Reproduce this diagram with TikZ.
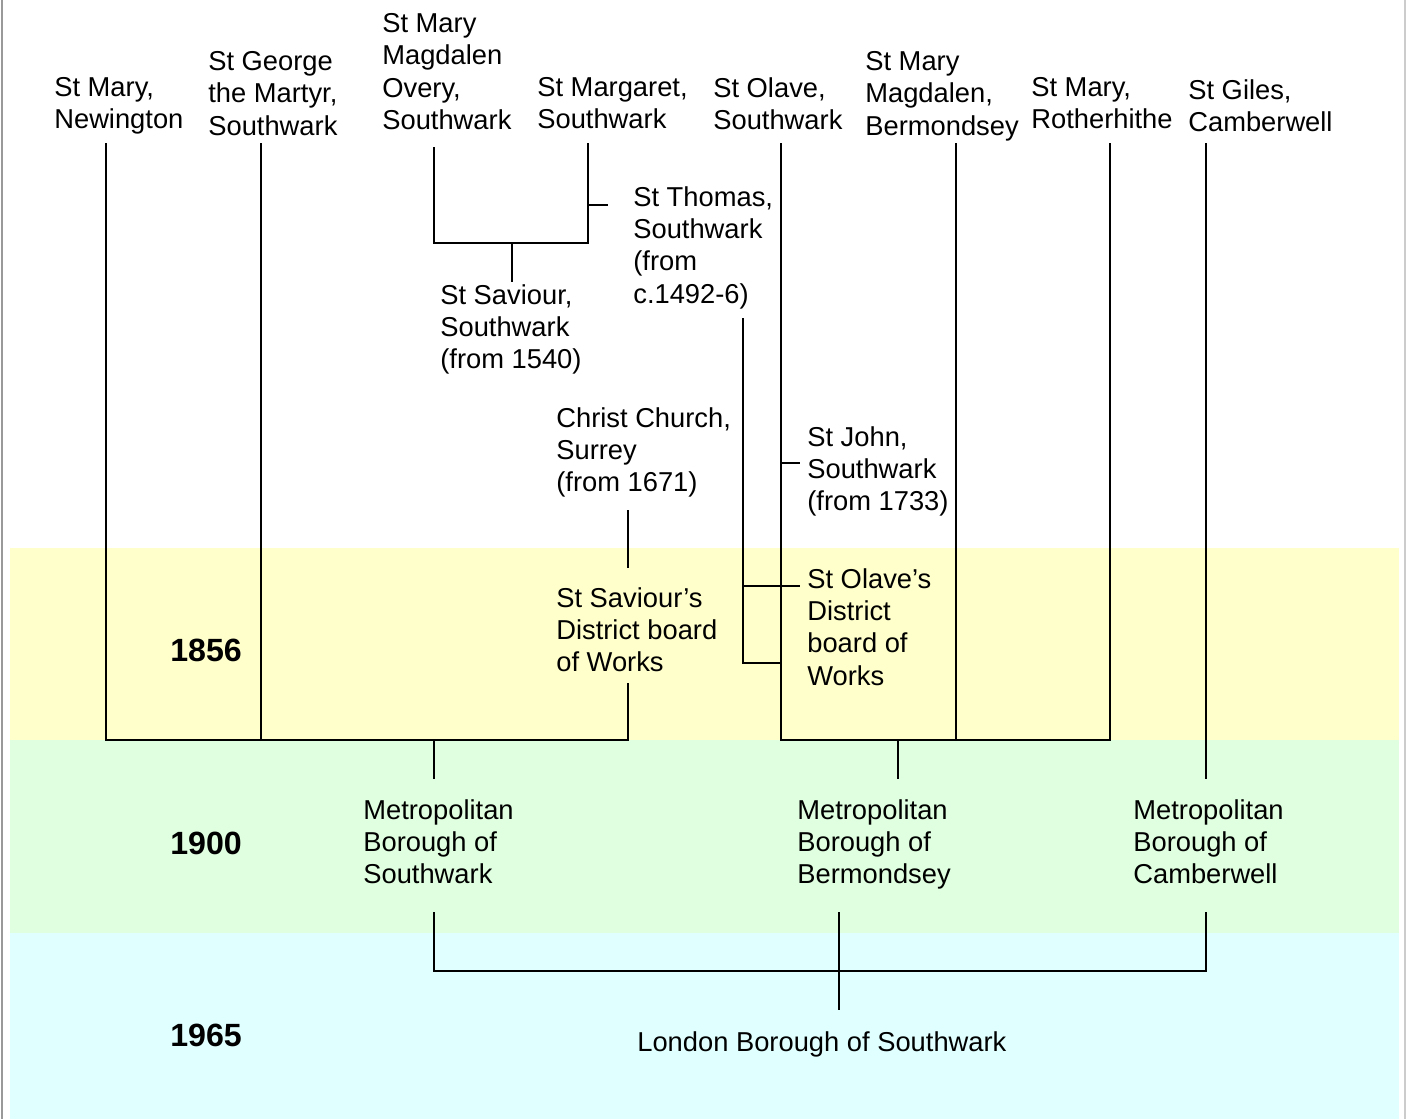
\documentclass[tikz,border=0pt]{standalone}
\usepackage{fontspec}
\setmainfont{Liberation Sans}
\definecolor{band1856}{HTML}{FFFFCC}
\definecolor{band1900}{HTML}{E0FFE0}
\definecolor{band1965}{HTML}{E0FFFF}
\tikzset{
  lbl/.style={anchor=north west,inner sep=0pt,align=left,font=\fontsize{15.55}{18.4}\selectfont},
  yearlbl/.style={anchor=north west,inner sep=0pt,font=\fontsize{18.3}{22}\selectfont\bfseries},
  link/.style={line width=1.35pt}
}
\begin{document}
\begin{tikzpicture}[x=0.02cm,y=-0.02cm]
\useasboundingbox (0,0) rectangle (1407,1119);
% bands and frame
\fill[band1856] (10,548) rectangle (1399,740);
\fill[band1900] (10,740) rectangle (1399,933);
\fill[band1965] (10,933) rectangle (1399,1119);
\draw[gray!80,line width=1.6pt] (2,0)--(2,1119);
\draw[gray!40,line width=1pt] (1405,0)--(1405,1119);
% parishes
\node[lbl] (newington) at (54,77) {St Mary,\\Newington};
\node[lbl] (george) at (208,51) {St George\\the Martyr,\\Southwark};
\node[lbl] (overy) at (382,13) {St Mary\\Magdalen\\Overy,\\Southwark};
\node[lbl] (margaret) at (537,77) {St Margaret,\\Southwark};
\node[lbl] (olave) at (713,77) {St Olave,\\Southwark};
\node[lbl] (magdalen) at (865,51) {St Mary\\Magdalen,\\Bermondsey};
\node[lbl] (rotherhithe) at (1031,77) {St Mary,\\Rotherhithe};
\node[lbl] (giles) at (1188,79) {St Giles,\\Camberwell};
\node[lbl] (thomas) at (633,186) {St Thomas,\\Southwark\\(from\\c.1492-6)};
\node[lbl] (saviour) at (440,284) {St Saviour,\\Southwark\\(from 1540)};
\node[lbl] (christchurch) at (556,407) {Christ Church,\\Surrey\\(from 1671)};
\node[lbl] (john) at (807,426) {St John,\\Southwark\\(from 1733)};
% boards and boroughs
\node[lbl] (saviourboard) at (556,587) {St Saviour’s\\District board\\of Works};
\node[lbl] (olaveboard) at (807,568) {St Olave’s\\District\\board of\\Works};
\node[lbl] (mbsouthwark) at (363,799) {Metropolitan\\Borough of\\Southwark};
\node[lbl] (mbbermondsey) at (797,799) {Metropolitan\\Borough of\\Bermondsey};
\node[lbl] (mbcamberwell) at (1133,799) {Metropolitan\\Borough of\\Camberwell};
\node[lbl] (lbsouthwark) at (637,1031) {London Borough of Southwark};
% years
\node[yearlbl] (y1856) at (170,639) {1856};
\node[yearlbl] (y1900) at (170,832) {1900};
\node[yearlbl] (y1965) at (170,1024) {1965};
% junction points
\coordinate (newT) at (106,143);
\coordinate (georgeT) at (261,143);
\coordinate (overyT) at (434,147);
\coordinate (margaretT) at (588,143);
\coordinate (olaveT) at (781,143);
\coordinate (magdalenT) at (956,143);
\coordinate (rotherT) at (1110,143);
\coordinate (gilesT) at (1206,143);
\coordinate (thomasB) at (743,318);
\coordinate (christB) at (628,510);
\coordinate (sboardT) at (628,568);
\coordinate (sboardB) at (628,683);
\coordinate (mbsT) at (434,779);
\coordinate (mbbT) at (898,779);
\coordinate (mbcT) at (1206,779);
\coordinate (mbsB) at (434,912);
\coordinate (mbbB) at (839,912);
\coordinate (mbcB) at (1206,912);
\coordinate (lbT) at (839,1010);
% connectors
\draw[link] (overyT) |- (512,243) -| (margaretT);
\draw[link] (512,243) -- (512,282);
\draw[link] (588,205) -- (608,205);
\draw[link] (christB) -- (sboardT);
\draw[link] (thomasB) |- (781,663);
\draw[link] (743,586) -- (800,586);
\draw[link] (781,463) -- (800,463);
\draw[link] (newT) |- (sboardB |- 0,740) -- (sboardB);
\draw[link] (georgeT) -- (261,740);
\draw[link] (434,740) -- (mbsT);
\draw[link] (olaveT) |- (rotherT |- 0,740) -- (rotherT);
\draw[link] (magdalenT) -- (956,740);
\draw[link] (898,740) -- (mbbT);
\draw[link] (gilesT) -- (mbcT);
\draw[link] (mbsB) |- (839,971) -| (mbcB);
\draw[link] (mbbB) -- (lbT);
\end{tikzpicture}
\end{document}
